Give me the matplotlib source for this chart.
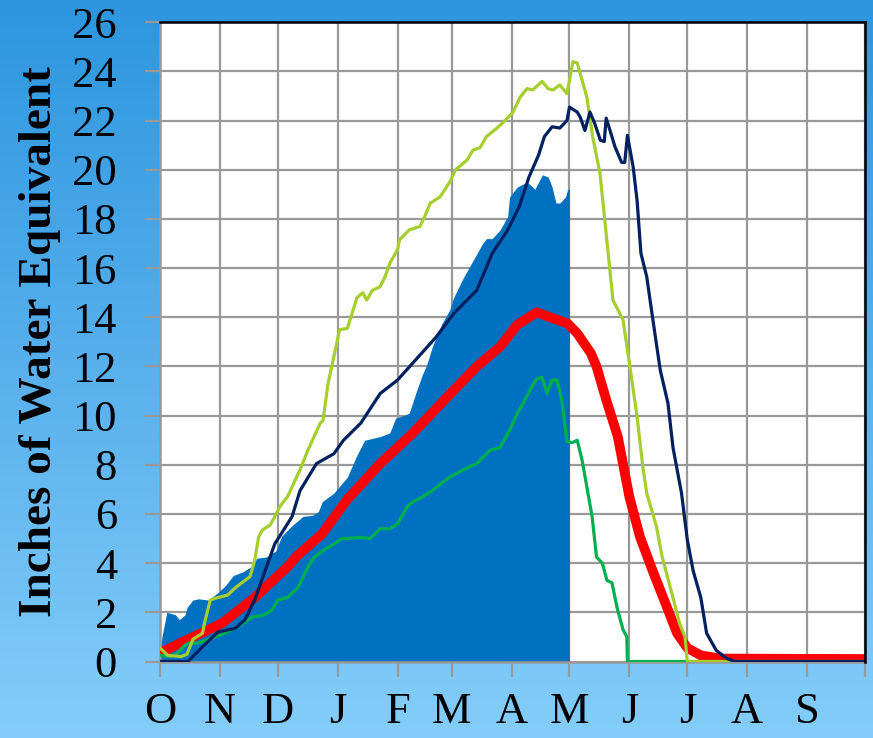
import numpy as np
import matplotlib
matplotlib.use("Agg")
import matplotlib.pyplot as plt
from matplotlib.colors import LinearSegmentedColormap

# days since Oct 1 (water year), values in inches of SWE
month_starts = [0, 31, 61, 92, 123, 151, 182, 212, 243, 273, 304, 335, 365]
month_labels = ["O", "N", "D", "J", "F", "M", "A", "M", "J", "J", "A", "S"]

# current year (filled)
cur_days = [0, 1, 3.5, 8, 10, 13, 14, 17, 20, 25, 30, 34, 38, 43, 48, 50, 55, 60, 63,
            68, 74, 79, 82, 84, 90, 97, 102, 106, 114, 119, 122, 126, 129, 133, 136,
            138, 141, 146, 150, 152, 157, 162, 167, 169, 172, 176, 180, 181, 185, 190,
            193, 194, 196, 198, 201, 203, 205, 207, 210, 211, 212]
cur_swe = [0.3, 1.0, 2.0, 1.9, 1.7, 1.9, 2.2, 2.5, 2.55, 2.5, 2.8, 3.1, 3.5, 3.65, 3.9,
           4.2, 4.25, 4.5, 5.1, 5.5, 5.9, 5.95, 6.1, 6.5, 6.85, 7.5, 8.4, 9.0, 9.15, 9.3,
           9.9, 10.0, 10.1, 11.05, 11.7, 12.05, 12.8, 13.75, 14.3, 14.8, 15.6, 16.3,
           17.0, 17.2, 17.2, 17.55, 18.1, 18.9, 19.3, 19.5, 19.3, 19.2, 19.5, 19.8, 19.7,
           19.3, 18.65, 18.65, 18.9, 19.2, 19.2]

# median
med_days = [0, 14.5, 32, 49, 66, 71, 84, 97, 114, 131, 148.6, 164, 176, 185, 195, 202,
            211, 216, 223, 226, 231, 237, 243, 248.5, 255, 262.5, 267.7, 273, 280, 290, 365]
med_swe = [0.35, 0.9, 1.55, 2.6, 3.85, 4.3, 5.2, 6.6, 8.05, 9.3, 10.75, 12.0, 12.8, 13.7,
           14.2, 14.0, 13.75, 13.35, 12.55, 12.0, 10.65, 9.15, 6.7, 5.07, 3.7, 2.2, 1.15,
           0.55, 0.25, 0.12, 0.1]

# maximum year
max_days = [0, 4, 11, 14, 17, 22, 23, 26, 30, 35, 39, 44, 46.6, 49, 51, 53, 57, 59.5, 62,
            66, 72.5, 76.6, 83, 84.4, 87, 89.6, 93, 97, 102, 105, 107, 110, 114, 116.5,
            119, 123, 124, 129, 134.6, 137, 140, 145, 150, 153, 159, 162, 165.7, 169,
            174.5, 178.6, 182.8, 186.4, 190, 193, 197.8, 200.9, 203.5, 207, 210.7, 213.8,
            216, 221, 224, 227.8, 231, 234.5, 239.7, 243, 247, 250, 252, 257, 260, 265.6,
            269, 271.8, 273, 365]
max_swe = [0.55, 0.25, 0.2, 0.3, 0.9, 1.15, 1.55, 2.5, 2.6, 2.7, 3.0, 3.3, 3.45, 4.1, 5.05,
           5.35, 5.55, 5.9, 6.3, 6.7, 7.8, 8.6, 9.7, 9.8, 11.3, 12.25, 13.5, 13.55, 14.8,
           15.0, 14.7, 15.1, 15.25, 15.65, 16.2, 16.75, 17.15, 17.55, 17.7, 18.1, 18.65,
           18.9, 19.5, 20.0, 20.4, 20.8, 20.9, 21.35, 21.7, 22.0, 22.35, 22.95, 23.3,
           23.25, 23.6, 23.3, 23.25, 23.45, 23.1, 24.4, 24.35, 22.95, 21.35, 19.85, 17.4,
           14.7, 13.9, 12.15, 9.95, 7.9, 6.85, 5.5, 4.25, 2.6, 1.55, 1.0, 0.0, 0.0]

# second high year (navy)
hi_days = [0, 14.5, 22, 30, 39, 44, 49, 54, 59.5, 62, 68.4, 72.5, 81, 90, 95, 104, 114,
           123, 131, 143, 152, 159, 164, 172, 180, 186, 191, 196, 199, 203, 207, 210.7,
           212, 216, 217.5, 220, 222.6, 225, 228, 230, 231, 233, 235.5, 239, 240.6, 242,
           245, 247, 249, 252, 255, 259, 263, 265.6, 270, 273, 276, 280, 283, 288, 293.5,
           297.7, 365]
hi_swe = [0, 0, 0.6, 1.2, 1.35, 1.7, 2.5, 3.6, 4.8, 5.1, 5.9, 6.95, 8.05, 8.45, 9.0, 9.7,
          10.9, 11.45, 12.15, 13.2, 14.15, 14.7, 15.1, 16.6, 17.55, 18.5, 19.7, 20.6,
          21.35, 21.75, 21.7, 22.0, 22.55, 22.35, 22.15, 21.6, 22.35, 21.9, 21.2, 21.15,
          22.1, 21.6, 20.95, 20.3, 20.3, 21.4, 20.1, 18.75, 16.6, 15.65, 14.0, 11.85,
          10.5, 8.7, 6.85, 4.95, 3.7, 2.6, 1.15, 0.45, 0.12, 0, 0]

# minimum year
min_days = [0, 6, 9, 12, 14.5, 19.7, 25, 32, 40, 47.6, 54, 58, 61, 66, 71.4, 76.6, 80,
            85, 90.6, 94, 97, 103.5, 108.7, 114, 119, 123, 128, 131, 136, 141, 146.5,
            150, 157, 164, 171, 176, 181, 185, 188, 191.6, 195, 197.8, 200.4, 203, 205.5,
            208, 210.7, 213.3, 216, 218.5, 221, 223.7, 226, 229, 231.4, 234, 236.6,
            239.7, 241.7, 242, 365]
min_swe = [0.25, 0.2, 0.35, 0.6, 0.75, 0.75, 0.9, 1.1, 1.4, 1.8, 1.9, 2.1, 2.5, 2.6, 3.0,
           3.85, 4.25, 4.55, 4.8, 5.0, 5.0, 5.05, 5.0, 5.4, 5.4, 5.6, 6.3, 6.5, 6.7, 6.95,
           7.3, 7.5, 7.8, 8.05, 8.6, 8.7, 9.4, 10.1, 10.5, 11.05, 11.5, 11.55, 10.9, 11.45,
           11.45, 10.65, 8.95, 8.9, 9.0, 8.2, 7.1, 5.9, 4.25, 4.0, 3.3, 3.2, 2.2, 1.3, 1.0,
           0.0, 0.0]

fig = plt.figure(figsize=(8.73, 7.38), dpi=100)

# background gradient
bg = fig.add_axes([0, 0, 1, 1], zorder=-10)
bg_cmap = LinearSegmentedColormap.from_list("bg", ["#2C96DF", "#58B0EC", "#84CDFA"])
bg.imshow(np.linspace(0, 1, 256).reshape(-1, 1), aspect="auto", cmap=bg_cmap,
          extent=[0, 1, 0, 1])
bg.axis("off")

ax = fig.add_axes([160 / 873, 76.5 / 738, 705 / 873, 639.2 / 738])
ax.set_facecolor("white")

ax.fill_between(cur_days, cur_swe, 0, color="#0070C0", linewidth=0, zorder=2)
ax.plot(med_days, med_swe, color="#FF0000", lw=7, zorder=3, solid_capstyle="butt")
ax.plot(min_days, min_swe, color="#00B050", lw=2.3, zorder=4)
ax.plot(max_days, max_swe, color="#A6CE2E", lw=2.3, zorder=5)
ax.plot(hi_days, hi_swe, color="#002060", lw=2.3, zorder=6)

ax.set_xlim(0, 365)
ax.set_ylim(0, 26)
ax.set_xticks(month_starts)
ax.set_xticklabels(month_labels + [""])
ax.set_yticks(np.arange(0, 27, 2))
ax.grid(True, color="#999999", lw=1.6, zorder=1)
ax.set_axisbelow(True)

for side in ["left", "bottom"]:
    ax.spines[side].set_color("#999999")
    ax.spines[side].set_linewidth(1.8)
for side in ["top", "right"]:
    ax.spines[side].set_color("black")
    ax.spines[side].set_linewidth(1.8)
    ax.spines[side].set_zorder(10)

serif = ["Liberation Serif", "DejaVu Serif"]
ax.tick_params(axis="both", color="#999999", width=1.6, length=11, labelcolor="black")
ax.tick_params(axis="y", pad=20)
ax.tick_params(axis="x", pad=11)
for lab in ax.get_yticklabels():
    lab.set_fontfamily(serif)
    lab.set_fontsize(32)
for lab in ax.get_xticklabels():
    lab.set_fontfamily(serif)
    lab.set_fontsize(32)

ax.set_ylabel("Inches of Water Equivalent", family=serif, fontweight="bold",
              fontsize=34, labelpad=8)

fig.savefig("out.png", dpi=100)
